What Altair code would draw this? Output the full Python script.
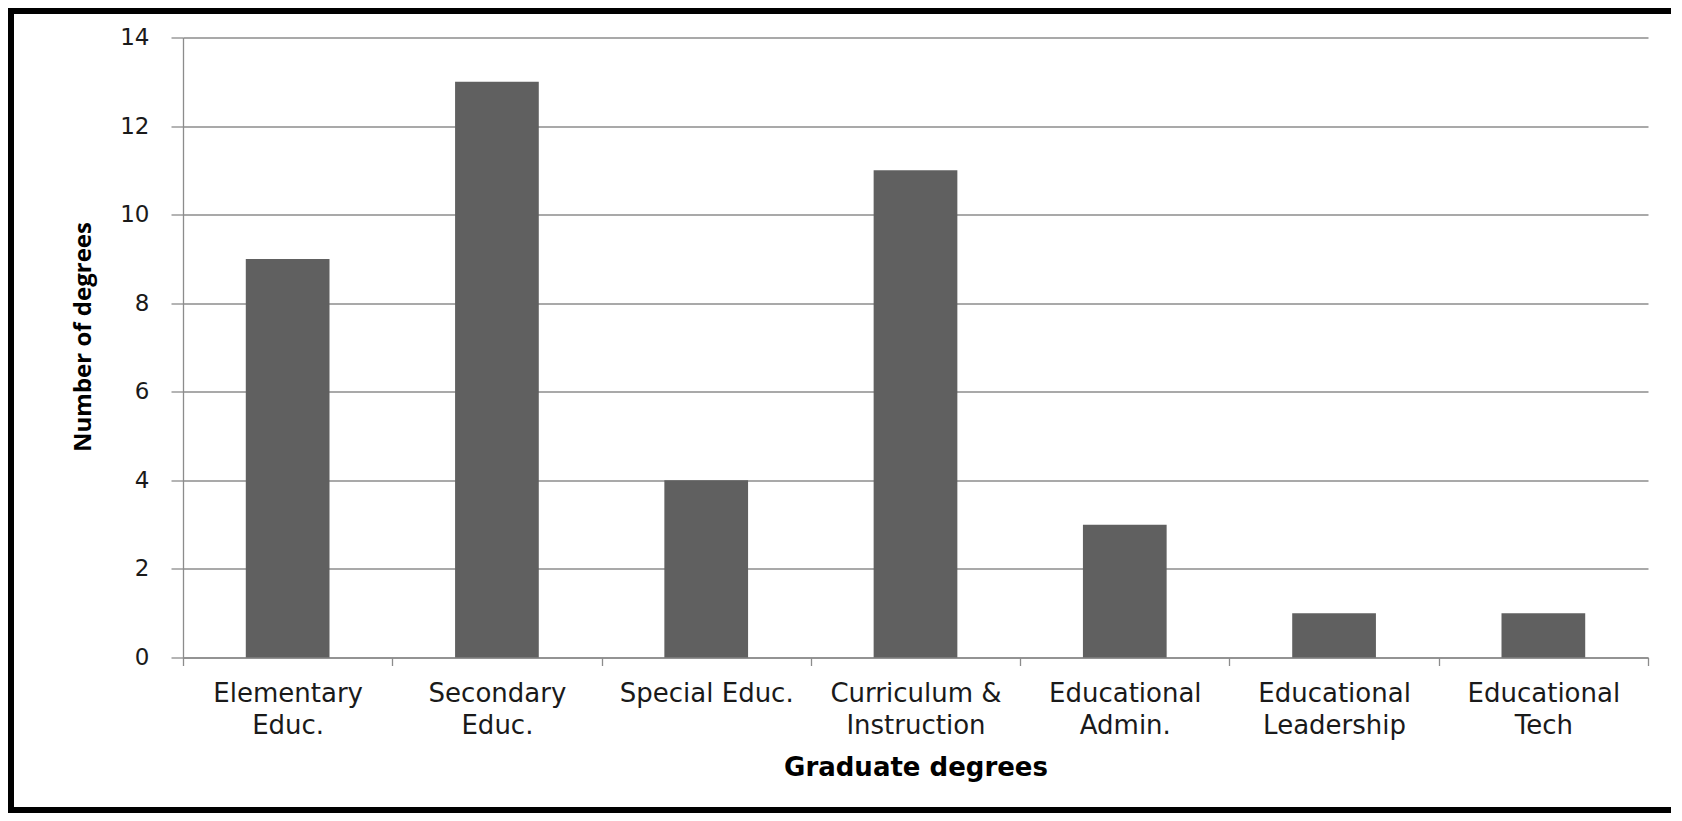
import altair as alt
import pandas as pd

categories = [
    "Elementary Educ.",
    "Secondary Educ.",
    "Special Educ.",
    "Curriculum & Instruction",
    "Educational Admin.",
    "Educational Leadership",
    "Educational Tech",
]
# how each category label is wrapped on the axis
label_lines = [
    "Elementary|Educ.",
    "Secondary|Educ.",
    "Special Educ.",
    "Curriculum &|Instruction",
    "Educational|Admin.",
    "Educational|Leadership",
    "Educational|Tech",
]
counts = [9, 13, 4, 11, 3, 1, 1]
y_ticks = [0, 2, 4, 6, 8, 10, 12, 14]

df = pd.DataFrame({"degree": label_lines, "count": counts, "name": categories})

GRID = "#8c8c8c"
FONT = "DejaVu Sans"
TITLE_FONT = "Open Sans"

bars = alt.Chart(df).mark_bar(color="#606060", width={"band": 0.4}).encode(
    x=alt.X(
        "degree:N",
        sort=None,
        title="Graduate degrees",
        scale=alt.Scale(paddingInner=0, paddingOuter=0),
        axis=alt.Axis(
            labelExpr="split(datum.label, '|')",
            labelAngle=0,
            labelFont=FONT,
            labelFontSize=26,
            labelColor="#1a1a1a",
            labelLineHeight=32,
            labelPadding=15,
            labelBaseline="top",
            tickBand="extent",
            tickSize=8,
            tickColor=GRID,
            tickWidth=1.3,
            domainColor=GRID,
            domainWidth=1.3,
            grid=False,
            titleFont=FONT,
            titleFontSize=26,
            titleFontWeight="bold",
            titleColor="#000000",
            titlePadding=16,
        ),
    ),
    y=alt.Y(
        "count:Q",
        title="Number of degrees",
        scale=alt.Scale(domain=[0, 14], nice=False),
        axis=alt.Axis(
            values=y_ticks,
            labelFont=FONT,
            labelFontSize=23,
            labelColor="#1a1a1a",
            labelPadding=22,
            tickSize=12,
            tickColor=GRID,
            tickWidth=1.3,
            domainColor=GRID,
            domainWidth=1.3,
            grid=True,
            gridColor=GRID,
            gridWidth=1.3,
            titleFont=TITLE_FONT,
            titleFontSize=24,
            titleFontWeight="bold",
            titleColor="#000000",
            titlePadding=24,
            titleY=299,
        ),
    ),
)

frame = pd.DataFrame({"a": [0]})
LEFT, RIGHT, TOP, BOTTOM = -172, 1485, -26.5, 772.5


def edge(**enc):
    return alt.Chart(frame).mark_rule(
        color="#000000", strokeWidth=6, strokeCap="square"
    ).encode(**enc)


top_edge = edge(x=alt.value(LEFT), x2=alt.value(RIGHT), y=alt.value(TOP))
bottom_edge = edge(x=alt.value(LEFT), x2=alt.value(RIGHT), y=alt.value(BOTTOM))
left_edge = edge(x=alt.value(LEFT), y=alt.value(TOP), y2=alt.value(BOTTOM))

chart = alt.layer(top_edge, bottom_edge, left_edge, bars).properties(
    width=1465,
    height=620,
    padding={"left": 175, "top": 29.5, "right": 26, "bottom": 155.5},
    autosize=alt.AutoSizeParams(type="none"),
    background="#ffffff",
).configure_view(stroke=None)

chart.save("out.html", embed_options={"renderer": "svg", "actions": False})
